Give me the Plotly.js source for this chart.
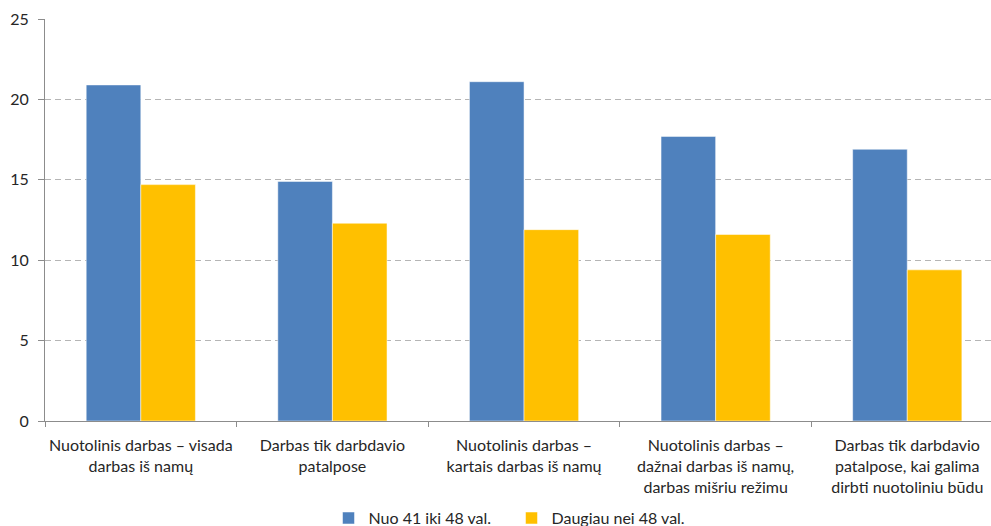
<!DOCTYPE html>
<html>
<head>
<meta charset="utf-8">
<script src="https://cdn.plot.ly/plotly-3.0.1.min.js"></script>
<style>html,body{margin:0;padding:0;background:#fff;}#chart{width:991px;height:526px;}</style>
</head>
<body>
<div id="chart"></div>
<script>
var categories = [
  "Nuotolinis darbas – visada<br>darbas iš namų",
  "Darbas tik darbdavio<br>patalpose",
  "Nuotolinis darbas –<br>kartais darbas iš namų",
  "Nuotolinis darbas –<br>dažnai darbas iš namų,<br>darbas mišriu režimu",
  "Darbas tik darbdavio<br>patalpose, kai galima<br>dirbti nuotoliniu būdu"
];
var seriesNames = ["Nuo 41 iki 48 val.", "Daugiau nei 48 val."];
var values41to48 = [20.9, 14.9, 21.1, 17.7, 16.9];
var valuesOver48 = [14.7, 12.3, 11.9, 11.6, 9.4];
var yTicks = [0, 5, 10, 15, 20, 25];

var fontFam = "Lato, 'Open Sans', sans-serif";
var data = [
  {type: "bar", x: categories, y: values41to48, name: seriesNames[0],
   marker: {color: "#4F81BD", line: {color: "rgba(255,255,255,0.5)", width: 1}}},
  {type: "bar", x: categories, y: valuesOver48, name: seriesNames[1],
   marker: {color: "#FFC000", line: {color: "rgba(255,255,255,0.5)", width: 1}}}
];
var layout = {
  width: 991, height: 526,
  margin: {l: 44.5, r: 0, t: 19, b: 104.5, pad: 0, autoexpand: false},
  paper_bgcolor: "#fff", plot_bgcolor: "#fff",
  font: {family: fontFam, size: 16, color: "#262626"},
  barmode: "group", bargap: 0.43, bargroupgap: 0,
  showlegend: true,
  legend: {orientation: "h", xref: "container", yref: "container",
           x: 0.3315, xanchor: "left", y: 0.015, yanchor: "middle",
           font: {family: fontFam, size: 16, color: "#262626"},
           entrywidth: 138, itemwidth: 30, traceorder: "normal"},
  xaxis: {type: "category", range: [-0.5, 4.437], tickson: "boundaries",
          ticks: "outside", ticklen: 5, tickcolor: "#8c8c8c",
          showline: true, linecolor: "#8c8c8c", linewidth: 1,
          showgrid: false, zeroline: false, tickangle: 0, ticklabelstandoff: 10,
          tickfont: {family: fontFam, size: 16, color: "#262626"}, automargin: false},
  yaxis: {range: [0, 25], tickvals: yTicks, ticktext: yTicks.map(String),
          ticks: "outside", ticklen: 6, tickcolor: "#8c8c8c",
          showline: true, linecolor: "#8c8c8c", linewidth: 1,
          showgrid: true, gridcolor: "#b5b5b5", gridwidth: 1, griddash: "6px,4px",
          zeroline: false, ticklabelstandoff: 6,
          tickfont: {family: fontFam, size: 16, color: "#262626"},
          automargin: false}
};
Plotly.newPlot("chart", data, layout, {displayModeBar: false, staticPlot: true});
</script>
</body>
</html>
